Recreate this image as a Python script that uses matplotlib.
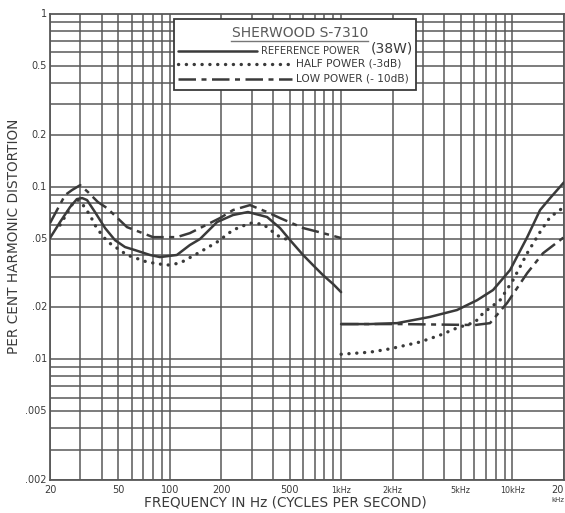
import matplotlib
matplotlib.use("Agg")
import matplotlib.pyplot as plt
import matplotlib.transforms as mtransforms
from matplotlib.patches import Rectangle
from matplotlib.lines import Line2D

# ---- measured distortion curves (percent THD vs frequency in Hz) ----
# The test is split at 1 kHz, so each curve has a low-band and a high-band run.
ref_low_f = [20, 22.9, 26.2, 28.7, 30.8, 32.9, 36.6, 41.9, 47.9, 54.8, 62.7, 76.7, 87.7, 110,
             131, 150, 189, 234, 286, 370, 440, 504, 600, 686, 785, 898, 1000]
ref_low_v = [0.0504, 0.0624, 0.0762, 0.0847, 0.0859, 0.0836, 0.0713, 0.0576, 0.0490, 0.0447,
             0.0429, 0.0402, 0.0391, 0.0402, 0.0459, 0.0497, 0.0624, 0.0685, 0.0713, 0.0667,
             0.0576, 0.0490, 0.0402, 0.0351, 0.0307, 0.0273, 0.0245]
ref_high_f = [1000, 1476, 2120, 3300, 4750, 6220, 7710, 9690, 12200, 14500, 16600, 20000]
ref_high_v = [0.0160, 0.0160, 0.0162, 0.0176, 0.0193, 0.0220, 0.0252, 0.0329, 0.0510, 0.0732,
              0.0859, 0.106]

half_low_f = [22.9, 27.2, 29.1, 31.2, 34.2, 36.6, 40.2, 43.6, 56.3, 73.7, 96.4, 114.8, 150,
              189, 234, 294, 350, 401, 440, 484]
half_low_v = [0.0599, 0.0803, 0.0836, 0.0782, 0.0685, 0.0599, 0.0524, 0.0478, 0.0402, 0.0366,
              0.0351, 0.0361, 0.0418, 0.0478, 0.0561, 0.0615, 0.0607, 0.0546, 0.0510, 0.0495]
half_high_f = [1000, 1476, 1930, 2890, 3780, 4750, 6050, 6740, 8470, 10090, 12200, 14500, 16600,
               20000]
half_high_v = [0.0107, 0.0110, 0.0115, 0.0126, 0.0138, 0.0152, 0.0164, 0.0185, 0.0220, 0.0288,
               0.0412, 0.0546, 0.0667, 0.0762]

low_low_f = [20, 24.5, 26.9, 30, 33.3, 38.1, 43.0, 56.3, 79.9, 110, 131, 196.5, 234, 294, 370,
             440, 600, 785, 1000]
low_low_v = [0.0615, 0.0894, 0.0956, 0.102, 0.0931, 0.0814, 0.0752, 0.0583, 0.0510, 0.0510,
             0.0538, 0.0658, 0.0732, 0.0782, 0.0713, 0.0658, 0.0576, 0.0538, 0.0504]
low_high_f = [1000, 2210, 6050, 7400, 9310, 12200, 15100, 20000]
low_high_v = [0.0160, 0.0160, 0.0158, 0.0162, 0.0212, 0.0316, 0.0412, 0.051]

x_ticks = [20, 50, 100, 200, 500, 1000, 2000, 5000, 10000, 20000]
x_tick_labels = ["20", "50", "100", "200", "500", "1kHz", "2kHz", "5kHz", "10kHz", "20"]
y_ticks = [1, 0.5, 0.2, 0.1, 0.05, 0.02, 0.01, 0.005, 0.002]
y_tick_labels = ["1", "0.5", "0.2", "0.1", ".05", ".02", ".01", ".005", ".002"]

INK = "#3a3a3a"
GRID = "#585858"

W, H = 565, 513
fig = plt.figure(figsize=(W / 100, H / 100), dpi=100)
fig.patch.set_facecolor("white")


def px(x, y):
    """pixel position (from top-left) to figure fraction"""
    return x / W, 1 - y / H


ax = fig.add_axes([50 / W, 1 - 480 / H, 514 / W, 466 / H])
ax.set_xscale("log")
ax.set_yscale("log")
ax.set_xlim(20, 20000)
ax.set_ylim(0.002, 1)

# log-paper grid: every decade line and every 2..9 subdivision
for dec in [10, 100, 1000, 10000]:
    for m in range(1, 10):
        f = dec * m
        if 20 <= f <= 20000:
            ax.axvline(f, color=GRID, lw=1.1, zorder=1)
for dec in [0.001, 0.01, 0.1]:
    for m in range(1, 10):
        v = dec * m
        if 0.002 <= v <= 1:
            ax.axhline(v, color=GRID, lw=1.1, zorder=1)

for sp in ax.spines.values():
    sp.set_color(GRID)
    sp.set_linewidth(1.3)

ax.tick_params(which="both", length=0)
ax.set_xticks([])
ax.set_yticks([])
ax.minorticks_off()

tick_font = dict(family="DejaVu Sans", color=INK, fontsize=7)

# y tick labels
ytrans = mtransforms.blended_transform_factory(ax.transAxes, ax.transData)
for v, lab in zip(y_ticks, y_tick_labels):
    ax.text(-0.006, v, lab, transform=ytrans, ha="right", va="center", **tick_font)

# x tick labels
xtrans = mtransforms.blended_transform_factory(ax.transData, ax.transAxes)
for f, lab in zip(x_ticks, x_tick_labels):
    if f == 20000:
        ax.text(f, -0.010, lab, transform=xtrans, ha="right", va="top", **tick_font)
        ax.text(f, -0.036, "kHz", transform=xtrans, ha="right", va="top",
                family="DejaVu Sans", color=INK, fontsize=5)
    elif "kHz" in lab:
        ax.text(f, -0.012, lab, transform=xtrans, ha="center", va="top",
                family="DejaVu Sans", color=INK, fontsize=5.8)
    else:
        ax.text(f, -0.010, lab, transform=xtrans, ha="center", va="top", **tick_font)

fig.text(*px(285, 503), "FREQUENCY IN Hz (CYCLES PER SECOND)", ha="center", va="center",
         fontsize=9.8, color=INK, family="DejaVu Sans")
fig.text(*px(14, 236), "PER CENT HARMONIC DISTORTION", ha="center", va="center",
         rotation=90, fontsize=9.8, color=INK, family="DejaVu Sans")

# curve styles
solid_kw = dict(color=INK, lw=1.8, solid_capstyle="round", solid_joinstyle="round", zorder=4)
dot_kw = dict(color=INK, lw=2.4, linestyle=(0, (0.05, 2.3)), dash_capstyle="round", zorder=4)
dash_kw = dict(color=INK, lw=1.8, linestyle=(0, (7, 2.2, 2, 2.2)), zorder=4)

ax.plot(ref_low_f, ref_low_v, **solid_kw)
ax.plot(ref_high_f, ref_high_v, **solid_kw)
ax.plot(half_low_f, half_low_v, **dot_kw)
ax.plot(half_high_f, half_high_v, **dot_kw)
ax.plot(low_low_f, low_low_v, **dash_kw)
ax.plot(low_high_f, low_high_v, **dash_kw)

# legend panel
x0, y0 = px(174, 90)
x1, y1 = px(416, 19)
fig.patches.append(Rectangle((x0, y0), x1 - x0, y1 - y0, transform=fig.transFigure,
                             facecolor="white", edgecolor=INK, lw=1.3, zorder=5))
fig.text(*px(300, 33), "SHERWOOD S-7310", ha="center", va="center", fontsize=10,
         color="#5a5a5a", family="DejaVu Sans", zorder=6)
ux0, uy = px(231, 41)
ux1, _ = px(368, 41)
fig.lines.append(Line2D([ux0, ux1], [uy, uy], transform=fig.transFigure, color="#777777",
                        lw=1.0, zorder=6))


def legend_row(y, x_end, kw, text, text_x, size=7.6):
    a, yy = px(178, y)
    b, _ = px(x_end, y)
    style = {k: v for k, v in kw.items() if k != "zorder"}
    fig.lines.append(Line2D([a, b], [yy, yy], transform=fig.transFigure, zorder=6, **style))
    fig.text(*px(text_x, y), text, ha="left", va="center", fontsize=size, color=INK,
             family="DejaVu Sans", zorder=6)


legend_row(51, 257, solid_kw, "REFERENCE POWER", 261, size=7.2)
fig.text(*px(413, 49), "(38W)", ha="right", va="center", fontsize=10, color=INK,
         family="DejaVu Sans", zorder=6)
legend_row(64, 294, dot_kw, "HALF POWER (-3dB)", 296)
legend_row(79, 292, dash_kw, "LOW POWER (- 10dB)", 296)

fig.savefig("out.png", dpi=100, facecolor="white")
